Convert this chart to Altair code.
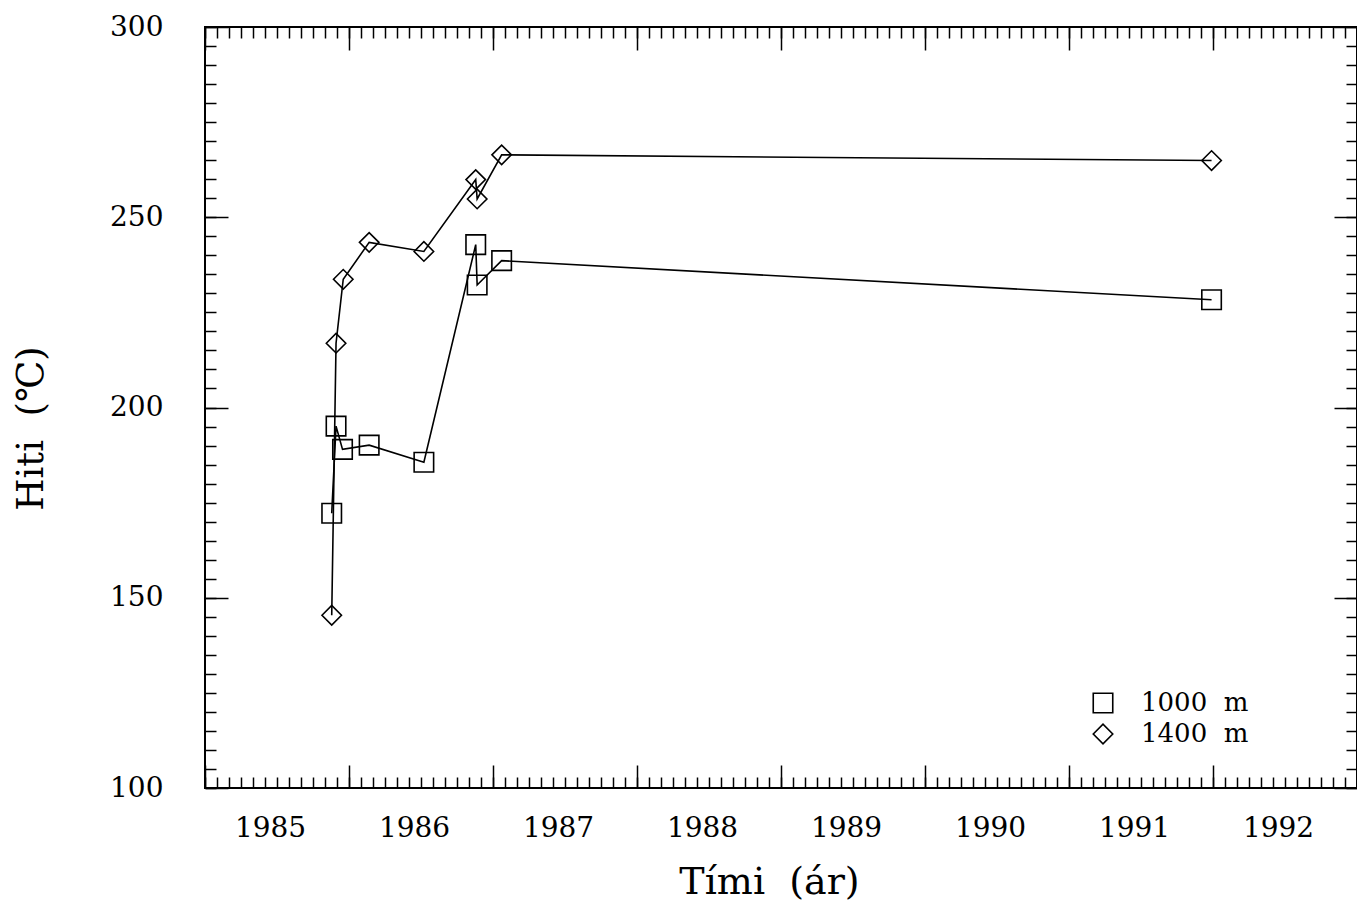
import altair as alt
import pandas as pd

# ---- data ----
series_names = ["1000 m", "1400 m"]
series_shapes = ["square", "diamond"]

years_1000 = [1985.88, 1985.91, 1985.955, 1986.14, 1986.52, 1986.88, 1986.89, 1987.06, 1991.99]
temps_1000 = [172.2, 195.1, 189.0, 190.1, 185.6, 242.8, 232.2, 238.6, 228.3]

years_1400 = [1985.88, 1985.91, 1985.96, 1986.14, 1986.52, 1986.88, 1986.89, 1987.06, 1991.99]
temps_1400 = [145.4, 216.9, 233.7, 243.4, 241.0, 259.9, 254.8, 266.4, 264.9]

# ---- axis tick positions ----
x_label_years = [1985, 1986, 1987, 1988, 1989, 1990, 1991, 1992]
x_major_ticks = [1985, 1986, 1987, 1988, 1989, 1990, 1991, 1992, 1993]
x_minor_ticks = [1985 + m / 12 for m in range(97)]
y_major_ticks = [100, 150, 200, 250, 300]
y_minor_ticks = list(range(100, 301, 5))

rows = []
for name, ys, ts in [(series_names[0], years_1000, temps_1000),
                     (series_names[1], years_1400, temps_1400)]:
    for i, (yr, t) in enumerate(zip(ys, ts)):
        rows.append({"series": name, "year": yr, "temp": t, "idx": i})
df = pd.DataFrame(rows)

FONT = "DejaVu Serif"
NB = "\u00a0"
X_SCALE = alt.Scale(domain=[1985, 1993], nice=False, zero=False)
Y_SCALE = alt.Scale(domain=[100, 300], nice=False, zero=False)

MAJOR = {"expr": "-23"}
MINOR = {"expr": "-11"}


def tick_axis(orient, values, size):
    return alt.Axis(orient=orient, values=values, tickSize=size, ticks=True,
                    labels=False, domain=False, grid=False, title=None,
                    tickColor="black", tickWidth=1.5)


x_label_axis = alt.Axis(
    orient="bottom", values=x_label_years, ticks=False, domain=False, grid=False,
    labels=True, format="d", labelFont=FONT, labelFontSize=28, labelColor="black",
    labelPadding=26, labelOffset=65, labelFlush=False, labelOverlap=False,
    title="Tími" + NB + NB + "(ár)", titleFont=FONT, titleFontSize=38,
    titleFontWeight="normal", titleColor="black", titleX=564, titleY=94,
    titleAlign="center", titleBaseline="middle",
)
y_label_axis = alt.Axis(
    orient="left", values=y_major_ticks, ticks=False, domain=False, grid=False,
    labels=True, format="d", labelFont=FONT, labelFontSize=28, labelColor="black",
    labelPadding=42, labelFlush=False, labelOverlap=False,
    title="Hiti" + NB + NB + "(℃)", titleFont=FONT, titleFontSize=37,
    titleFontWeight="normal", titleColor="black", titleX=-174, titleY=401,
    titleAngle=270, titleAlign="center", titleBaseline="middle",
)

lines = alt.Chart(df).mark_line(color="black", strokeWidth=1.6).encode(
    x=alt.X("year:Q", scale=X_SCALE, axis=x_label_axis),
    y=alt.Y("temp:Q", scale=Y_SCALE, axis=y_label_axis),
    detail="series:N",
    order="idx:Q",
)

points = alt.Chart(df).mark_point(filled=False, size=380, color="black",
                                  strokeWidth=1.6, opacity=1).encode(
    x=alt.X("year:Q", scale=X_SCALE, axis=tick_axis("bottom", x_major_ticks, MAJOR)),
    y=alt.Y("temp:Q", scale=Y_SCALE, axis=tick_axis("left", y_major_ticks, MAJOR)),
    shape=alt.Shape(
        "series:N",
        scale=alt.Scale(domain=series_names, range=series_shapes),
        legend=alt.Legend(
            title=None, orient="none", legendX=885, legendY=663, padding=0,
            labelFont=FONT, labelFontSize=26, labelColor="black", labelOffset=25,
            rowPadding=5, symbolSize=380, symbolStrokeWidth=1.6,
            symbolStrokeColor="black", symbolFillColor="transparent",
            labelExpr="replace(datum.label, ' ', '" + NB + NB + "')",
        ),
    ),
)

helper_bottom_minor = alt.Chart(df).mark_point(opacity=0).encode(
    x=alt.X("year:Q", scale=X_SCALE, axis=tick_axis("bottom", x_minor_ticks, MINOR)),
    y=alt.Y("temp:Q", scale=Y_SCALE, axis=tick_axis("left", y_minor_ticks, MINOR)),
)
helper_top_major = alt.Chart(df).mark_point(opacity=0).encode(
    x=alt.X("year:Q", scale=X_SCALE, axis=tick_axis("top", x_major_ticks, MAJOR)),
    y=alt.Y("temp:Q", scale=Y_SCALE, axis=tick_axis("right", y_major_ticks, MAJOR)),
)
helper_top_minor = alt.Chart(df).mark_point(opacity=0).encode(
    x=alt.X("year:Q", scale=X_SCALE, axis=tick_axis("top", x_minor_ticks, MINOR)),
    y=alt.Y("temp:Q", scale=Y_SCALE, axis=tick_axis("right", y_minor_ticks, MINOR)),
)

chart = alt.layer(
    lines, points, helper_bottom_minor, helper_top_major, helper_top_minor
).resolve_axis(x="independent", y="independent").properties(
    width=1152, height=761,
    autosize=alt.AutoSizeParams(type="none"),
    padding={"left": 197, "top": 19, "right": 0, "bottom": 120},
    background="white",
).configure_view(stroke="black", strokeWidth=2)

chart.save("out.html", embed_options={"renderer": "svg", "actions": False})
